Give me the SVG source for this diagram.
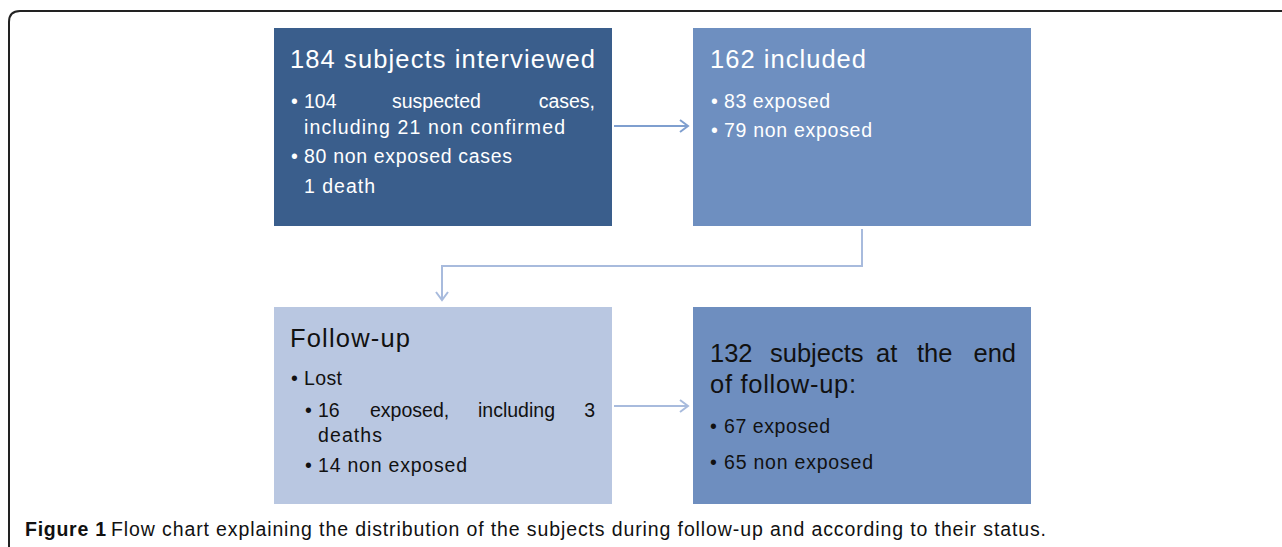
<svg xmlns="http://www.w3.org/2000/svg" width="1282" height="547" viewBox="0 0 1282 547">
<style>
text{font-family:"Liberation Sans",Arial,sans-serif}
.t{font-size:25.5px}
.b{font-size:19.5px}
.w{fill:#ffffff}
.k{fill:#111111}
.cap{font-size:19.5px;fill:#111111}
.c1{fill:none;stroke:#7f9fcf;stroke-width:2}
.c2{fill:none;stroke:#a8bbdd;stroke-width:2}
</style>
<defs>
<marker id="ah1" markerWidth="12" markerHeight="14" refX="10" refY="7" orient="auto" markerUnits="userSpaceOnUse">
<path d="M2,1 L10,7 L2,13" fill="none" stroke="#7f9fcf" stroke-width="2"/>
</marker>
<marker id="ah2" markerWidth="12" markerHeight="14" refX="10" refY="7" orient="auto" markerUnits="userSpaceOnUse">
<path d="M2,1 L10,7 L2,13" fill="none" stroke="#a8bbdd" stroke-width="2"/>
</marker>
</defs>
<rect width="1282" height="547" fill="#ffffff"/>
<path d="M9,547 L9,22 Q9,11 20,11 L1282,11" fill="none" stroke="#222" stroke-width="2"/>

<g id="connectors">
<path class="c1" d="M614,126 L688,126" marker-end="url(#ah1)"/>
<path class="c2" d="M862,229 L862,266 L442,266 L442,300" marker-end="url(#ah2)"/>
<path class="c2" d="M614,406 L688,406" marker-end="url(#ah2)"/>
</g>

<g id="node-interviewed">
<rect x="274" y="28" width="338" height="198" fill="#3a5e8c"/>
<text class="t w" x="290" y="68" textLength="305">184 subjects interviewed</text>
<text class="b w" x="291" y="108">•</text>
<text class="b w" x="304" y="108">104</text>
<text class="b w" x="392" y="108">suspected</text>
<text class="b w" x="595" y="108" text-anchor="end">cases,</text>
<text class="b w" x="304" y="134" textLength="261">including 21 non confirmed</text>
<text class="b w" x="291" y="163">•</text>
<text class="b w" x="304" y="163" textLength="208">80 non exposed cases</text>
<text class="b w" x="304" y="193" textLength="71">1 death</text>
</g>

<g id="node-included">
<rect x="693" y="28" width="338" height="198" fill="#6e8fc0"/>
<text class="t w" x="710" y="68" textLength="156">162 included</text>
<text class="b w" x="711" y="108">•</text>
<text class="b w" x="724" y="108" textLength="106">83 exposed</text>
<text class="b w" x="711" y="137">•</text>
<text class="b w" x="724" y="137" textLength="148">79 non exposed</text>
</g>

<g id="node-followup">
<rect x="274" y="307" width="338" height="197" fill="#b9c7e1"/>
<text class="t k" x="290" y="347" textLength="120">Follow-up</text>
<text class="b k" x="291" y="385">•</text>
<text class="b k" x="304" y="385" textLength="38">Lost</text>
<text class="b k" x="305" y="417">•</text>
<text class="b k" x="318" y="417">16</text>
<text class="b k" x="370" y="417">exposed,</text>
<text class="b k" x="478" y="417">including</text>
<text class="b k" x="595" y="417" text-anchor="end">3</text>
<text class="b k" x="318" y="442" textLength="64">deaths</text>
<text class="b k" x="305" y="472">•</text>
<text class="b k" x="318" y="472" textLength="149">14 non exposed</text>
</g>

<g id="node-end">
<rect x="693" y="307" width="338" height="197" fill="#6e8ebf"/>
<text class="t k" x="710" y="362">132</text>
<text class="t k" x="770" y="362">subjects</text>
<text class="t k" x="876" y="362">at</text>
<text class="t k" x="917" y="362">the</text>
<text class="t k" x="1016" y="362" text-anchor="end">end</text>
<text class="t k" x="710" y="393" textLength="146">of follow-up:</text>
<text class="b k" x="710" y="433">•</text>
<text class="b k" x="724" y="433" textLength="106">67 exposed</text>
<text class="b k" x="710" y="469">•</text>
<text class="b k" x="724" y="469" textLength="149">65 non exposed</text>
</g>

<text class="cap" x="25" y="536"><tspan font-weight="bold" textLength="81">Figure 1</tspan><tspan x="111" textLength="935">Flow chart explaining the distribution of the subjects during follow-up and according to their status.</tspan></text>
</svg>
